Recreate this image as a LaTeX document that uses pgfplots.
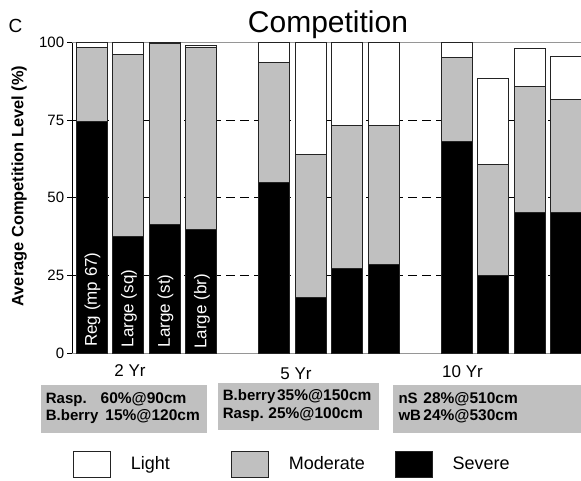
\documentclass[border=0pt]{standalone}
\usepackage{pgfplots}
\pgfplotsset{compat=1.18}
\usepackage{pgfplotstable}
\usepackage{fontspec}
\setmainfont{Liberation Sans}

\definecolor{modgray}{RGB}{192,192,192}
\definecolor{edgegray}{RGB}{35,35,35}
\definecolor{linegray}{RGB}{150,150,150}

% competition level per bar (%), stacked severe/moderate/light
\pgfplotstableread{
x  severe moderate light
0  74.5   23.9     1.6
1  37.6   58.5     3.9
2  41.4   58.2     0.4
3  39.8   58.7     0.5
5  55.0   38.6     6.4
6  18.0   45.8     36.2
7  27.4   46.0     26.6
8  28.5   44.9     26.6
10 68.1   27.1     4.8
11 24.9   35.8     27.8
12 45.3   40.4     12.4
13 45.3   36.4     13.6
}\comptable

\newcommand{\fs}[1]{\fontsize{#1}{#1}\selectfont}

\begin{document}
\begin{tikzpicture}[x=1pt,y=1pt]
  \useasboundingbox (0,0) rectangle (581,-481);

  % captions under the group labels
  \fill[modgray] (41,-385) rectangle (207,-433);
  \fill[modgray] (218,-383) rectangle (379,-430);
  \fill[modgray] (393,-385) rectangle (590,-433);

  \begin{axis}[
    at={(72pt,-353.3pt)}, anchor=south west,
    scale only axis,
    width=509pt, height=311pt,
    xmin=-0.54, xmax=13.41,
    ymin=0, ymax=100,
    ybar stacked,
    bar width=0.85,
    axis x line*=bottom,
    axis y line*=left,
    x axis line style={linegray, line width=0.8pt},
    y axis line style={black, line width=0.8pt},
    xtick=\empty,
    ytick={0,25,50,75,100},
    tick align=outside,
    major tick length=4.7pt,
    ytick style={black, line width=0.8pt},
    /pgf/number format/assume math mode=true,
    yticklabel style={font=\fs{15}, inner sep=0pt, xshift=-3pt},
    extra y ticks={25,50,75},
    extra y tick labels={},
    extra y tick style={grid=major, major grid style={black, line width=0.7pt, dash pattern=on 9pt off 5pt}},
    legend columns=3,
    reverse legend,
    legend style={draw=none, fill=none, at={(0.002,-0.356)}, anchor=west,
      column sep=0pt, inner sep=0pt, outer sep=0pt,
      nodes={inner sep=0pt, font=\fs{18}}},
    legend image code/.code={\draw[#1] (0pt,-13pt) rectangle (37pt,13pt); \path (57pt,0pt);},
  ]
    \addplot[fill=black, draw=edgegray, line width=0.9pt] table[x=x, y=severe] {\comptable};
    \addlegendentry{\makebox[60pt][l]{Severe}}
    \addplot[fill=modgray, draw=edgegray, line width=0.9pt] table[x=x, y=moderate] {\comptable};
    \addlegendentry{\makebox[106pt][l]{Moderate}}
    \addplot[fill=white, draw=edgegray, line width=0.9pt] table[x=x, y=light] {\comptable};
    \addlegendentry{\makebox[100pt][l]{Light}}

    \draw[linegray, line width=0.8pt] (rel axis cs:0,1) -- (rel axis cs:1,1);
  \end{axis}

  % treatment names written up the 2 Yr bars
  \begin{scope}[every node/.style={white, font=\fs{17}, rotate=90, anchor=west, inner sep=0pt}]
    \node at (92.5,-347) {Reg (mp 67)};
    \node at (129,-347.5) {Large (sq)};
    \node at (165.5,-347.5) {Large (st)};
    \node at (202,-349) {Large (br)};
  \end{scope}

  % titles
  \node[anchor=base, font=\fs{30}, inner sep=0pt] at (328,-33) {Competition};
  \node[anchor=base west, font=\fs{19}, inner sep=0pt] at (8.5,-33) {C};
  \node[anchor=base, rotate=90, font=\bfseries\fs{16.4}, inner sep=0pt] at (23.3,-186) {Average Competition Level (\%)};

  % group labels
  \node[anchor=base, font=\fs{17}, inner sep=0pt] at (130,-376.7) {2 Yr};
  \node[anchor=base, font=\fs{17}, inner sep=0pt] at (296,-379) {5 Yr};
  \node[anchor=base, font=\fs{17}, inner sep=0pt] at (462.5,-377) {10 Yr};

  % caption text
  \begin{scope}[every node/.style={font=\bfseries\fs{15}, inner sep=0pt}]
    \node[anchor=base west] at (45.7,-403.3) {Rasp.};
    \node[anchor=base east, font=\bfseries\fs{15.5}] at (186.7,-403.3) {60\%@90cm};
    \node[anchor=base west] at (45.7,-420) {B.berry};
    \node[anchor=base east, font=\bfseries\fs{15.5}] at (200,-420) {15\%@120cm};
    \node[anchor=base west] at (222.7,-400) {B.berry};
    \node[anchor=base east, font=\bfseries\fs{15.5}] at (371.7,-400) {35\%@150cm};
    \node[anchor=base west] at (222.7,-418.3) {Rasp.};
    \node[anchor=base east, font=\bfseries\fs{15.5}] at (363,-418.3) {25\%@100cm};
    \node[anchor=base west] at (398.3,-403) {nS};
    \node[anchor=base east, font=\bfseries\fs{15.5}] at (518,-403) {28\%@510cm};
    \node[anchor=base west] at (398.3,-420) {wB};
    \node[anchor=base east, font=\bfseries\fs{15.5}] at (518,-420) {24\%@530cm};
  \end{scope}
\end{tikzpicture}
\end{document}
